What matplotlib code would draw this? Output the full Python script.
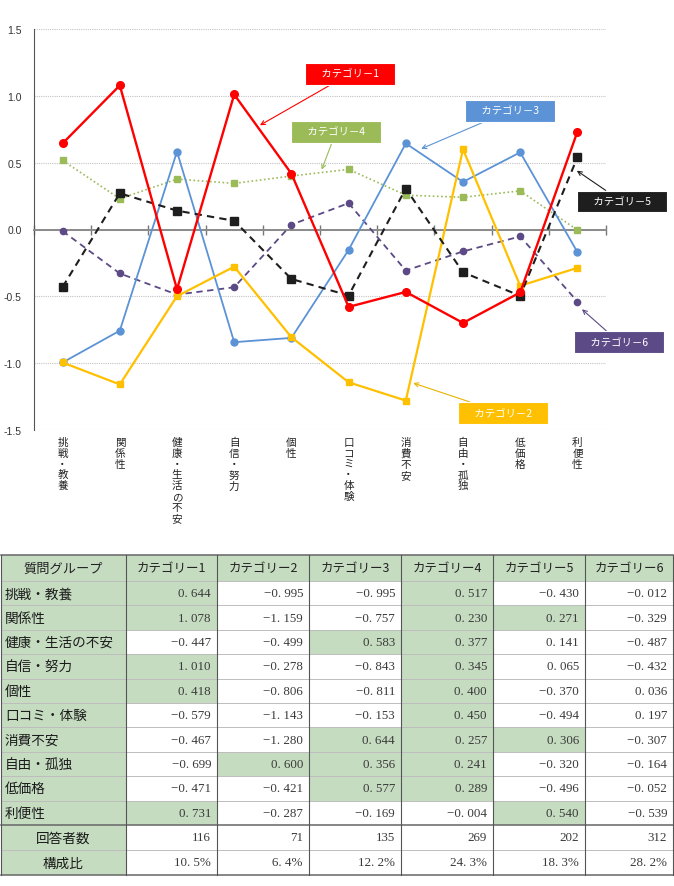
"""
category profile chart: mean scores per question group, with the summary table below.
"""
import numpy as np
import matplotlib
matplotlib.use("Agg")
import matplotlib.pyplot as plt
from matplotlib.patches import Rectangle

plt.rcParams['font.family'] = ['Noto Sans CJK JP', 'DejaVu Sans']

# data
groups = ['挑戦・教養', '関係性', '健康・生活の不安', '自信・努力', '個性',
          '口コミ・体験', '消費不安', '自由・孤独', '低価格', '利便性']
cat_names = ['カテゴリー1', 'カテゴリー2', 'カテゴリー3', 'カテゴリー4', 'カテゴリー5', 'カテゴリー6']
cat1 = [0.644, 1.078, -0.447, 1.010, 0.418, -0.579, -0.467, -0.699, -0.471, 0.731]
cat2 = [-0.995, -1.159, -0.499, -0.278, -0.806, -1.143, -1.280, 0.600, -0.421, -0.287]
cat3 = [-0.995, -0.757, 0.583, -0.843, -0.811, -0.153, 0.644, 0.356, 0.577, -0.169]
cat4 = [0.517, 0.230, 0.377, 0.345, 0.400, 0.450, 0.257, 0.241, 0.289, -0.004]
cat5 = [-0.430, 0.271, 0.141, 0.065, -0.370, -0.494, 0.306, -0.320, -0.496, 0.540]
cat6 = [-0.012, -0.329, -0.487, -0.432, 0.036, 0.197, -0.307, -0.164, -0.052, -0.539]
respondents = [116, 71, 135, 269, 202, 312]
shares = [10.5, 6.4, 12.2, 24.3, 18.3, 28.2]
yticks = [-1.5, -1.0, -0.5, 0.0, 0.5, 1.0, 1.5]

# styles
RED, YELLOW, BLUE, GREEN, BLACK, PURPLE = '#ff0000', '#ffc000', '#5b93d6', '#9bbb59', '#1e1e1e', '#5c4a86'
TABLE_GREEN = '#c5dcc1'
series = [
    (cat1, dict(color=RED, lw=1.7, ls='-', marker='o', ms=5.5, zorder=6)),
    (cat2, dict(color=YELLOW, lw=1.6, ls='-', marker='s', ms=5, zorder=5)),
    (cat3, dict(color=BLUE, lw=1.3, ls='-', marker='o', ms=5, zorder=4)),
    (cat4, dict(color=GREEN, lw=1.2, ls=(0, (1, 1.5)), marker='s', ms=4.5, zorder=3)),
    (cat5, dict(color=BLACK, lw=1.5, ls=(0, (3.5, 2.5)), marker='s', ms=6, zorder=5)),
    (cat6, dict(color=PURPLE, lw=1.3, ls=(0, (3.5, 2.5)), marker='o', ms=4.5, zorder=3)),
]
# (box centre, arrow head) in data coords, box colour
callouts = [
    ((5.02, 1.164), (3.45, 0.78), RED),
    ((7.70, -1.373), (6.13, -1.149), YELLOW),
    ((7.82, 0.888), (6.27, 0.604), BLUE),
    ((4.78, 0.73), (4.53, 0.448), GREEN),
    ((9.78, 0.209), (8.99, 0.44), BLACK),
    ((9.73, -0.843), (9.08, -0.597), PURPLE),
]


def fmt_num(s):
    # spreadsheet-style: wide minus and a gap after the point
    return s.replace('-', '\u2212').replace('.', '. ')


def draw_table(fig):
    tab = fig.add_axes([0, 0, 1, 1], zorder=0)
    tab.set_xlim(0, 674)
    tab.set_ylim(887, 0)
    tab.axis('off')
    tab.patch.set_visible(False)

    cols = [1, 126, 217, 309, 401, 493, 585, 673]
    top, head_h, row_h, sum_h = 556, 26, 24.4, 25
    rows = [top, top + head_h]
    for _ in groups:
        rows.append(rows[-1] + row_h)
    rows += [rows[-1] + sum_h, rows[-1] + 2 * sum_h]

    values = np.array([cat1, cat2, cat3, cat4, cat5, cat6]).T
    num_font = dict(family=['Liberation Serif', 'DejaVu Serif'], fontsize=9.4, color='#3a3a3a')

    def cell(c, r, fill):
        tab.add_patch(Rectangle((cols[c], rows[r]), cols[c + 1] - cols[c], rows[r + 1] - rows[r],
                                facecolor=fill, edgecolor='none'))

    # header
    for c in range(7):
        cell(c, 0, TABLE_GREEN)
    ymid = (rows[0] + rows[1]) / 2
    tab.text((cols[0] + cols[1]) / 2, ymid, '質問グループ', ha='center', va='center', fontsize=9.5, color='#222')
    for j, name in enumerate(cat_names):
        tab.text((cols[j + 1] + cols[j + 2]) / 2, ymid, name, ha='center', va='center', fontsize=9, color='#222')

    # group rows
    for i, g in enumerate(groups):
        r = i + 1
        ymid = (rows[r] + rows[r + 1]) / 2
        cell(0, r, TABLE_GREEN)
        tab.text(cols[0] + 4, ymid, g, ha='left', va='center', fontsize=9.8, color='#1a1a1a')
        for j in range(6):
            v = values[i, j]
            if v > 0.2:
                cell(j + 1, r, TABLE_GREEN)
            tab.text(cols[j + 2] - 6, ymid, fmt_num(f'{v:.3f}'), ha='right', va='center', **num_font)

    # summary rows
    for k, (lab, vals) in enumerate([('回答者数', [str(n) for n in respondents]),
                                     ('構成比', [f'{s:.1f}%' for s in shares])]):
        r = len(groups) + 1 + k
        ymid = (rows[r] + rows[r + 1]) / 2
        cell(0, r, TABLE_GREEN)
        tab.text((cols[0] + cols[1]) / 2, ymid, lab, ha='center', va='center', fontsize=9.8, color='#1a1a1a')
        for j, s in enumerate(vals):
            tab.text(cols[j + 2] - 6, ymid, fmt_num(s), ha='right', va='center', **num_font)

    # grid lines
    for r, y in enumerate(rows):
        if r in (0, len(rows) - 1, len(groups) + 1):
            tab.plot([cols[0], cols[-1]], [y, y], color='#666', lw=1.1)
        else:
            tab.plot([cols[0], cols[-1]], [y, y], color='#bdbdbd', lw=0.7)
    for x in cols:
        tab.plot([x, x], [rows[0], rows[-1]], color='#555', lw=0.8)


def draw_chart(fig):
    ax = fig.add_axes([34 / 674, 1 - 431 / 887, 572 / 674, 401 / 887], zorder=2)
    x = np.arange(len(groups))
    for vals, style in series:
        ax.plot(x, vals, **style)

    ax.set_xlim(-0.5, len(groups) - 0.5)
    ax.set_ylim(yticks[0], yticks[-1])
    ax.set_yticks(yticks)
    ax.set_yticklabels([f'{t:.1f}' for t in yticks], family=['Liberation Sans', 'DejaVu Sans'],
                       fontsize=7.5, color='#333')
    ax.tick_params(axis='y', length=0, pad=9)
    ax.yaxis.grid(True, color='#c4c4c4', lw=0.8, ls=(0, (1, 1)))
    ax.set_axisbelow(True)

    # category axis sits on y = 0, tick marks at the boundaries
    ax.set_xticks([])
    ax.set_xticks(np.arange(-0.5, len(groups)), minor=True)
    ax.tick_params(axis='x', which='minor', direction='inout', length=7, width=1, color='#777',
                   labelbottom=False)
    ax.spines['bottom'].set_position(('data', 0))
    ax.spines['bottom'].set_color('#8a8a8a')
    ax.spines['bottom'].set_linewidth(1.4)
    ax.spines['left'].set_color('#555')
    ax.spines['top'].set_visible(False)
    ax.spines['right'].set_visible(False)

    for i, g in enumerate(groups):
        ax.annotate('\n'.join(g), xy=(i, yticks[0]), xytext=(0, -5), textcoords='offset points',
                    ha='center', va='top', fontsize=7.6, linespacing=1.1, color='#222',
                    annotation_clip=False)

    for name, (box, head, color) in zip(cat_names, callouts):
        ax.annotate('\u3000' + name.replace('ー', '－') + '\u3000', xy=head, xytext=box,
                    ha='center', va='center', fontsize=7.5, color='white', zorder=10,
                    bbox=dict(boxstyle='square,pad=0.55', facecolor=color, edgecolor='white', lw=0.8),
                    arrowprops=dict(arrowstyle='->', color=color if color != YELLOW else '#e8b400',
                                    lw=0.8, shrinkA=0, shrinkB=0),
                    annotation_clip=False)
    return ax


def main():
    fig = plt.figure(figsize=(6.74, 8.87), dpi=100)
    draw_table(fig)
    draw_chart(fig)
    fig.savefig('out.png', dpi=100, facecolor='white')
    plt.close(fig)


if __name__ == "__main__":
    main()
